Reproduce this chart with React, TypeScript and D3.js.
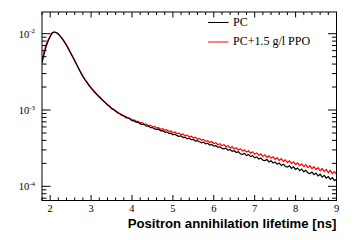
import React from 'react';
import * as d3 from 'd3';

// Histogram binning (bin centres) in ns
const BIN_START = 1.8;
const BIN_WIDTH = 0.05;
// Values are stored in units of 1e-4
const VALUE_UNIT = 1e-4;

const pcValues = [
  41.3, 53.7, 67.6, 80.4, 91.2, 102.3, 105.2, 103.3, 98.9, 92.3,
  84.7, 77.3, 70.0, 62.5, 55.6, 49.4, 44.0, 38.9, 34.4, 30.6,
  27.4, 24.8, 22.8, 20.9, 19.3, 18.0, 16.8, 15.7, 14.8, 13.9,
  13.1, 12.5, 11.6, 11.2, 10.4, 10.2, 9.70, 9.12, 8.96, 8.49,
  8.38, 7.95, 7.86, 7.62, 7.26, 7.20, 6.93, 6.90, 6.58, 6.47,
  6.45, 6.14, 6.16, 5.88, 5.90, 5.66, 5.58, 5.60, 5.33, 5.36,
  5.12, 5.18, 4.93, 4.97, 4.74, 4.82, 4.61, 4.52, 4.59, 4.36,
  4.41, 4.19, 4.26, 4.08, 4.13, 3.92, 3.98, 3.83, 3.71, 3.79,
  3.60, 3.67, 3.47, 3.53, 3.36, 3.41, 3.24, 3.31, 3.14, 3.09,
  3.15, 2.96, 3.04, 2.87, 2.93, 2.77, 2.84, 2.67, 2.63, 2.70,
  2.53, 2.61, 2.45, 2.52, 2.36, 2.43, 2.28, 2.35, 2.20, 2.17,
  2.24, 2.09, 2.16, 2.02, 2.09, 1.95, 2.02, 1.88, 1.95, 1.82,
  1.79, 1.86, 1.72, 1.80, 1.67, 1.74, 1.60, 1.68, 1.55, 1.62,
  1.50, 1.47, 1.54, 1.42, 1.49, 1.37, 1.44, 1.32, 1.39, 1.28,
  1.34, 1.23, 1.30, 1.19, 1.24,
];

const ppoValues = [
  44.3, 57.6, 71.6, 83.2, 93.3, 103.5, 105.0, 103.4, 99.0, 92.5,
  86.3, 78.8, 71.3, 63.7, 56.7, 50.3, 44.8, 39.6, 35.1, 31.2,
  27.9, 25.3, 23.2, 21.3, 19.7, 18.3, 17.1, 16.0, 15.1, 14.2,
  13.3, 12.5, 11.8, 11.3, 10.6, 10.2, 9.62, 9.40, 8.93, 8.75,
  8.38, 8.24, 7.88, 7.80, 7.46, 7.41, 7.12, 7.10, 6.78, 6.82,
  6.52, 6.55, 6.27, 6.31, 6.04, 6.10, 5.82, 5.89, 5.60, 5.69,
  5.41, 5.52, 5.25, 5.31, 5.05, 5.16, 4.90, 4.99, 4.73, 4.85,
  4.58, 4.67, 4.43, 4.54, 4.30, 4.39, 4.14, 4.25, 4.01, 4.12,
  3.88, 3.97, 3.76, 3.86, 3.64, 3.73, 3.51, 3.62, 3.42, 3.51,
  3.30, 3.41, 3.19, 3.30, 3.09, 3.20, 3.00, 3.11, 2.90, 3.01,
  2.81, 2.92, 2.72, 2.84, 2.63, 2.74, 2.55, 2.66, 2.47, 2.59,
  2.40, 2.51, 2.33, 2.44, 2.25, 2.37, 2.18, 2.30, 2.12, 2.23,
  2.05, 2.16, 1.99, 2.09, 1.93, 2.03, 1.87, 1.97, 1.81, 1.92,
  1.76, 1.86, 1.70, 1.81, 1.66, 1.76, 1.60, 1.71, 1.56, 1.66,
  1.51, 1.61, 1.47, 1.56, 1.44,
];

const seriesNames = ['PC', 'PC+1.5 g/l PPO'];
const seriesColors = ['#000000', '#ff0000'];
const xTickLabels = [2, 3, 4, 5, 6, 7, 8, 9];
const yTickExponents = [-4, -3, -2];
const xTitle = 'Positron annihilation lifetime [ns]';

const X_DOMAIN: [number, number] = [1.8, 9];
const Y_DOMAIN: [number, number] = [6.52e-5, 1.925e-2];

export default function App() {
  const W = 355;
  const H = 240;
  const left = 42, right = 336.5, top = 12, bottom = 200.5;
  const x = d3.scaleLinear().domain(X_DOMAIN).range([left, right]);
  const y = d3.scaleLog().domain(Y_DOMAIN).range([bottom, top]);

  const line = d3
    .line<number>()
    .x((_, i) => x(BIN_START + i * BIN_WIDTH))
    .y((v) => y(v * VALUE_UNIT));

  const xTicks: { v: number; major: boolean }[] = [];
  for (let i = 18; i <= 90; i += 2) {
    xTicks.push({ v: i / 10, major: i % 10 === 0 });
  }
  const yTicks: { v: number; major: boolean }[] = [];
  for (let d = -5; d <= -2; d++) {
    for (let m = 1; m <= 9; m++) {
      const v = m * Math.pow(10, d);
      if (v >= Y_DOMAIN[0] && v <= Y_DOMAIN[1]) yTicks.push({ v, major: m === 1 });
    }
  }

  const serif = "'Liberation Serif', 'DejaVu Serif', serif";
  const sans = "'Liberation Sans', Arial, sans-serif";

  return (
    <svg
      width={W}
      height={H}
      style={{ position: 'absolute', left: 0, top: 0, background: '#fff' }}
    >
      <defs>
        <clipPath id="plot">
          <rect x={left} y={top} width={right - left} height={bottom - top} />
        </clipPath>
      </defs>
      <rect x={0} y={0} width={W} height={H} fill="#fff" />
      <g clipPath="url(#plot)">
        <path d={line(ppoValues) || ''} fill="none" stroke={seriesColors[1]} strokeWidth={1.2} />
        <path d={line(pcValues) || ''} fill="none" stroke={seriesColors[0]} strokeWidth={1.2} />
      </g>
      <rect x={left} y={top} width={right - left} height={bottom - top} fill="none" stroke="#000" strokeWidth={1} />
      {xTicks.map((t, i) => {
        const px = x(t.v);
        const len = t.major ? 5.5 : 3;
        return (
          <g key={'xt' + i} stroke="#000" strokeWidth={1}>
            <line x1={px} x2={px} y1={bottom} y2={bottom - len} />
            <line x1={px} x2={px} y1={top} y2={top + len} />
          </g>
        );
      })}
      {yTicks.map((t, i) => {
        const py = y(t.v);
        const len = t.major ? 8.5 : 4.5;
        return (
          <g key={'yt' + i} stroke="#000" strokeWidth={1}>
            <line x1={left} x2={left + len} y1={py} y2={py} />
            <line x1={right} x2={right - len} y1={py} y2={py} />
          </g>
        );
      })}
      {xTickLabels.map((v) => (
        <text key={'xl' + v} x={x(v)} y={212} fontFamily={serif} fontSize={10.5} textAnchor="middle" fill="#000">
          {v}
        </text>
      ))}
      {yTickExponents.map((e) => {
        const py = y(Math.pow(10, e));
        return (
          <text key={'yl' + e} x={35} y={py + 4} fontFamily={serif} fontSize={10.5} textAnchor="end" fill="#000">
            10
            <tspan fontSize={7} dy={-4.5}>{String(e)}</tspan>
          </text>
        );
      })}
      <text x={336.5} y={228} fontFamily={sans} fontWeight="bold" fontSize={13.2} textAnchor="end" fill="#000">
        {xTitle}
      </text>
      {seriesNames.map((name, i) => {
        const ly = 22 + i * 19.5;
        return (
          <g key={'lg' + i}>
            <path d={`M208,${ly + 0.5}H228.5`} fill="none" stroke={seriesColors[i]} strokeWidth={1} />
            <text x={233} y={ly + 3.8} fontFamily={serif} fontSize={12} fill="#000">
              {name}
            </text>
          </g>
        );
      })}
    </svg>
  );
}
